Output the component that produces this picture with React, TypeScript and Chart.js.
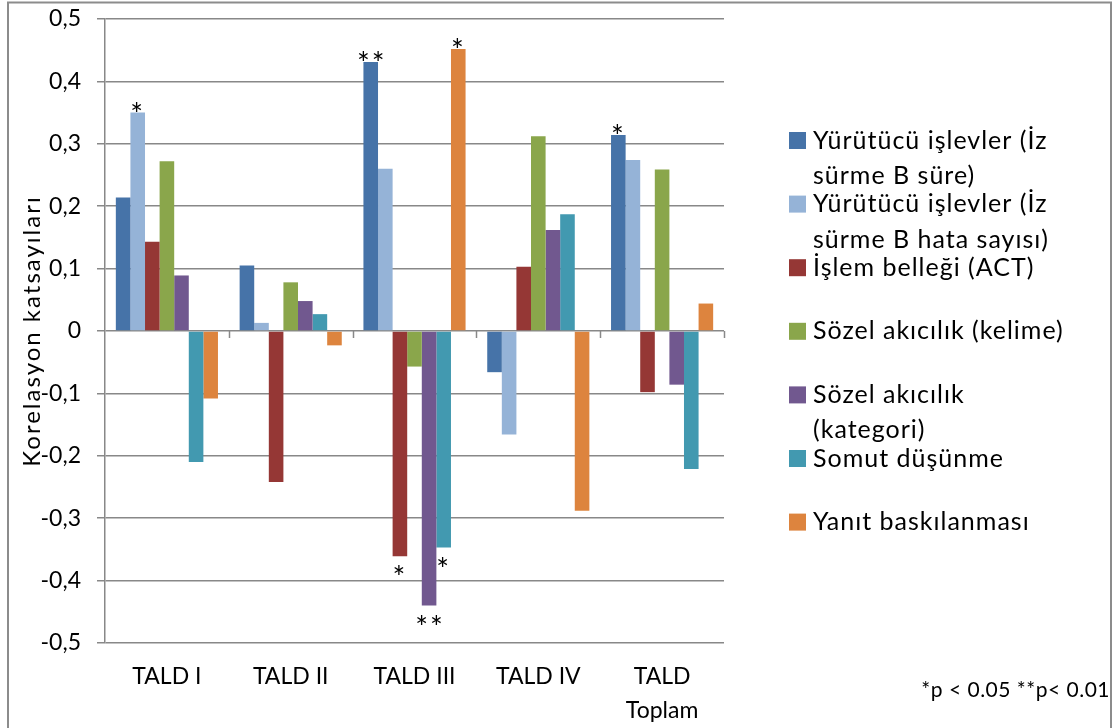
import { useEffect, useRef } from 'react';
import { Chart, registerables } from 'chart.js';

Chart.register(...registerables);

const categories: (string | string[])[] = ['TALD I', 'TALD II', 'TALD III', 'TALD IV', ['TALD', 'Toplam']];

const seriesNames = [
  'Yürütücü işlevler (İz sürme B süre)',
  'Yürütücü işlevler (İz sürme B hata sayısı)',
  'İşlem belleği (ACT)',
  'Sözel akıcılık (kelime)',
  'Sözel akıcılık (kategori)',
  'Somut düşünme',
  'Yanıt baskılanması',
];

const legendLines = [
  ['Yürütücü işlevler (İz', 'sürme B süre)'],
  ['Yürütücü işlevler (İz', 'sürme B hata sayısı)'],
  ['İşlem belleği (ACT)'],
  ['Sözel akıcılık (kelime)'],
  ['Sözel akıcılık', '(kategori)'],
  ['Somut düşünme'],
  ['Yanıt baskılanması'],
];

const colors = ['#4673A8', '#95B3D7', '#953735', '#8AA64B', '#71588F', '#4299B0', '#DD843E'];

const izSurmeSure = [0.214, 0.105, 0.431, -0.066, 0.314];
const izSurmeHata = [0.35, 0.013, 0.26, -0.166, 0.274];
const islemBellegi = [0.143, -0.242, -0.361, 0.103, -0.098];
const sozelKelime = [0.272, 0.078, -0.057, 0.312, 0.259];
const sozelKategori = [0.089, 0.048, -0.44, 0.162, -0.086];
const somutDusunme = [-0.21, 0.027, -0.347, 0.187, -0.221];
const yanitBaskilanmasi = [-0.108, -0.023, 0.452, -0.288, 0.044];

const seriesValues = [izSurmeSure, izSurmeHata, islemBellegi, sozelKelime, sozelKategori, somutDusunme, yanitBaskilanmasi];

const significance = [
  ['', '', '**', '', '*'],
  ['*', '', '', '', ''],
  ['', '', '*', '', ''],
  ['', '', '', '', ''],
  ['', '', '**', '', ''],
  ['', '', '*', '', ''],
  ['', '', '*', '', ''],
];

const footnote = '*p < 0.05 **p< 0.01';
const yTitle = 'Korelasyon katsayıları';

const FONT = 'Lato, "Open Sans", sans-serif';
const GRID = '#888888';

const customPlugin = {
  id: 'custom',
  beforeDraw(chart: any) {
    const { ctx, width, height } = chart;
    ctx.save();
    ctx.fillStyle = '#ffffff';
    ctx.fillRect(0, 0, width, height);
    ctx.strokeStyle = '#8c8c8c';
    ctx.lineWidth = 2;
    ctx.strokeRect(8, 2.5, 1103, height + 20);
    ctx.restore();
  },
  afterDatasetsDraw(chart: any) {
    const { ctx, chartArea } = chart;
    const xs = chart.scales.x;
    const ys = chart.scales.y;
    ctx.save();
    // category tick marks on the zero line
    const zeroY = ys.getPixelForValue(0);
    const n = categories.length;
    const cw = (xs.right - xs.left) / n;
    ctx.strokeStyle = GRID;
    ctx.lineWidth = 1.5;
    for (let i = 1; i <= n; i++) {
      const x = Math.round(xs.left + i * cw) + 0.5;
      ctx.beginPath();
      ctx.moveTo(x, zeroY);
      ctx.lineTo(x, zeroY + 7);
      ctx.stroke();
    }
    // significance marks
    ctx.fillStyle = '#000';
    ctx.font = `30px ${FONT}`;
    (ctx as any).letterSpacing = '2px';
    ctx.textAlign = 'center';
    ctx.textBaseline = 'alphabetic';
    significance.forEach((row, di) => {
      const meta = chart.getDatasetMeta(di);
      row.forEach((s, ci) => {
        if (!s) return;
        const bar = meta.data[ci];
        const v = seriesValues[di][ci];
        const m = ctx.measureText(s);
        const off = (m.actualBoundingBoxAscent - m.actualBoundingBoxDescent) / 2;
        const cy = v >= 0 ? bar.y - 6 : bar.y + 14;
        ctx.fillText(s, bar.x + (s.length > 1 ? 1 : 0), cy + off);
      });
    });
    (ctx as any).letterSpacing = '0px';
    // y axis title
    ctx.save();
    ctx.translate(32, (chartArea.top + chartArea.bottom) / 2);
    ctx.rotate(-Math.PI / 2);
    ctx.font = `24px ${FONT}`;
    (ctx as any).letterSpacing = '2px';
    ctx.textAlign = 'center';
    ctx.textBaseline = 'middle';
    ctx.fillText(yTitle, 0, 0);
    ctx.restore();
    ctx.restore();
  },
  afterDraw(chart: any) {
    const { ctx } = chart;
    ctx.save();
    ctx.fillStyle = '#000';
    ctx.font = `25px ${FONT}`;
    (ctx as any).letterSpacing = '1px';
    ctx.textAlign = 'left';
    ctx.textBaseline = 'middle';
    const lx = 789;
    const y0 = 140.5;
    const step = 63.6;
    legendLines.forEach((lines, i) => {
      const cy = y0 + i * step;
      ctx.fillStyle = colors[i];
      ctx.fillRect(lx, cy - 8.5, 17, 17);
      ctx.fillStyle = '#000';
      lines.forEach((t, li) => {
        ctx.fillText(t, lx + 24, cy + li * 35.5);
      });
    });
    ctx.font = `21px ${FONT}`;
    (ctx as any).letterSpacing = '0.5px';
    ctx.textAlign = 'right';
    ctx.fillText(footnote, 1110, 690);
    ctx.restore();
  },
};

export default function App() {
  const ref = useRef<HTMLCanvasElement | null>(null);
  useEffect(() => {
    if (!ref.current) return;
    const chart = new Chart(ref.current, {
      type: 'bar',
      data: {
        labels: categories,
        datasets: seriesValues.map((vals, i) => ({
          label: seriesNames[i],
          data: vals,
          backgroundColor: colors[i],
          borderWidth: 0,
          categoryPercentage: 0.825,
          barPercentage: 1,
        })),
      },
      options: {
        animation: false,
        responsive: false,
        devicePixelRatio: 1,
        layout: { padding: { left: 8, top: 19, right: 393, bottom: 0 } },
        plugins: {
          legend: { display: false },
          tooltip: { enabled: false },
        },
        scales: {
          x: {
            grid: { display: false, drawTicks: false },
            border: { display: false },
            ticks: {
              color: '#000',
              font: { family: FONT, size: 23, lineHeight: 1.5 },
              padding: 16,
              maxRotation: 0,
              autoSkip: false,
            },
            afterFit: (s: any) => {
              s.height = 85;
              s.paddingLeft = 0;
              s.paddingRight = 0;
            },
          },
          y: {
            min: -0.5,
            max: 0.5,
            grid: { color: GRID, lineWidth: 1.5, tickLength: 8, drawTicks: true },
            border: { display: true, color: GRID, width: 1.5 },
            ticks: {
              stepSize: 0.1,
              color: '#000',
              padding: 16,
              font: { family: FONT, size: 23 },
              callback: (v: any) => {
                const n = Number(v);
                if (Math.abs(n) < 1e-9) return '0';
                return n.toFixed(1).replace('.', ',');
              },
            },
            title: { display: false },
            afterFit: (s: any) => {
              s.width = 97;
              s.paddingTop = 0;
              s.paddingBottom = 0;
            },
          },
        },
      },
      plugins: [customPlugin],
    });
    return () => chart.destroy();
  }, []);
  return (
    <canvas
      ref={ref}
      width={1117}
      height={728}
      style={{ position: 'absolute', left: 0, top: 0, width: 1117, height: 728 }}
    />
  );
}
